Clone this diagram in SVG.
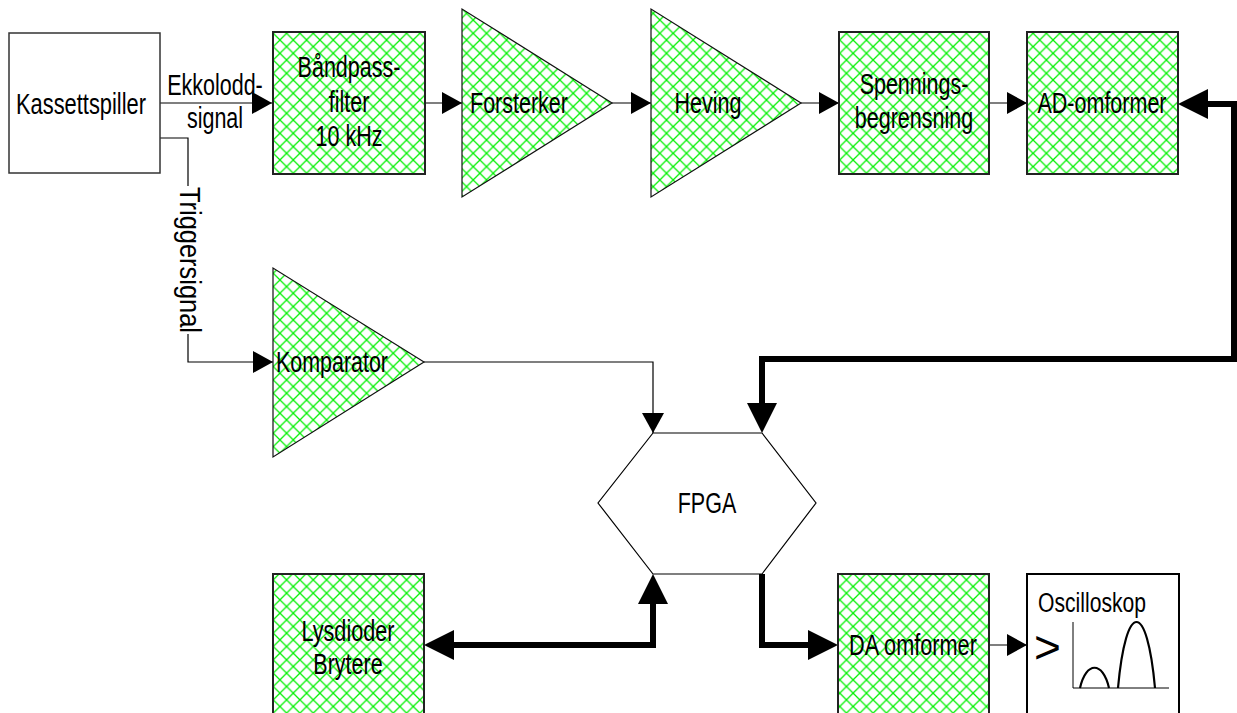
<svg xmlns="http://www.w3.org/2000/svg" width="1237" height="713" viewBox="0 0 1237 713">
<style>
.t{font-family:"Liberation Sans Narrow","Liberation Sans",Arial,sans-serif;font-size:29px;text-anchor:middle;fill:#000}
.box{fill:url(#hatch);stroke:#222;stroke-width:2}
.tri{fill:url(#hatch);stroke:#111;stroke-width:1.2}
.thin{fill:none;stroke:#000;stroke-width:1.2}
.thick{fill:none;stroke:#000;stroke-width:6;stroke-linejoin:miter}
</style>
<defs>
<pattern id="hatch" patternUnits="userSpaceOnUse" width="13.33" height="13.33">
<rect width="13.33" height="13.33" fill="#fff"/>
<path d="M0,0 L13.33,13.33 M13.33,0 L0,13.33" stroke="#00f000" stroke-width="1.25"/>
</pattern>
<marker id="ah" markerUnits="userSpaceOnUse" markerWidth="20" markerHeight="22" refX="20" refY="11" orient="auto">
<path d="M0,0 L20,11 L0,22 z" fill="#000"/>
</marker>
<marker id="ahT" markerUnits="userSpaceOnUse" markerWidth="30" markerHeight="30" refX="10" refY="15" orient="auto-start-reverse">
<path d="M0,0 L30,15 L0,30 z" fill="#000"/>
</marker>
</defs>
<rect width="1237" height="713" fill="#fff"/>

<g id="connectors">
<path class="thin" d="M160,103 H272" marker-end="url(#ah)"/>
<path class="thin" d="M425,103 H462" marker-end="url(#ah)"/>
<path class="thin" d="M612,103 H651" marker-end="url(#ah)"/>
<path class="thin" d="M801,103 H839" marker-end="url(#ah)"/>
<path class="thin" d="M989,103 H1027" marker-end="url(#ah)"/>
<path class="thin" d="M160,138 H188 V186"/>
<path class="thin" d="M188,334 V362 H273" marker-end="url(#ah)"/>
<path class="thin" d="M424,362 H653 V433" marker-end="url(#ah)"/>
<path class="thin" d="M989,645 H1027" marker-end="url(#ah)"/>
<path class="thick" d="M1198,104 H1234 V359 H762 V413" marker-start="url(#ahT)" marker-end="url(#ahT)"/>
<path class="thick" d="M444,645 H653 V594" marker-start="url(#ahT)" marker-end="url(#ahT)"/>
<path class="thick" d="M762,574 V645 H818" marker-end="url(#ahT)"/>
<text class="t" x="215" y="95" textLength="95.6" lengthAdjust="spacingAndGlyphs">Ekkolodd-</text>
<text class="t" x="215" y="128" textLength="56.2" lengthAdjust="spacingAndGlyphs">signal</text>
<text class="t" transform="translate(180,260) rotate(90)" x="0" y="0" textLength="146" lengthAdjust="spacingAndGlyphs">Triggersignal</text>
</g>

<g id="kassettspiller">
<rect x="9" y="33" width="151" height="140" fill="#fff" stroke="#333" stroke-width="1.5"/>
<text class="t" x="81" y="114" textLength="130" lengthAdjust="spacingAndGlyphs">Kassettspiller</text>
</g>

<g id="bandpass">
<rect class="box" x="273" y="32" width="152" height="142"/>
<text class="t" x="349" y="77" textLength="102.8" lengthAdjust="spacingAndGlyphs">Båndpass-</text>
<text class="t" x="349" y="112" textLength="40.6" lengthAdjust="spacingAndGlyphs">filter</text>
<text class="t" x="349" y="146" textLength="66.9" lengthAdjust="spacingAndGlyphs">10 kHz</text>
</g>

<g id="forsterker">
<polygon class="tri" points="462,9 462,197 612,103"/>
<text class="t" x="519" y="113" textLength="98" lengthAdjust="spacingAndGlyphs">Forsterker</text>
</g>

<g id="heving">
<polygon class="tri" points="651,9 651,197 801,103"/>
<text class="t" x="708" y="113" textLength="66.9" lengthAdjust="spacingAndGlyphs">Heving</text>
</g>

<g id="spenningsbegrensning">
<rect class="box" x="839" y="32" width="150" height="142"/>
<text class="t" x="914" y="94" textLength="108.7" lengthAdjust="spacingAndGlyphs">Spennings-</text>
<text class="t" x="914" y="128" textLength="118.3" lengthAdjust="spacingAndGlyphs">begrensning</text>
</g>

<g id="ad-omformer">
<rect class="box" x="1027" y="32" width="151" height="142"/>
<text class="t" x="1102" y="113" textLength="129" lengthAdjust="spacingAndGlyphs">AD-omformer</text>
</g>

<g id="komparator">
<polygon class="tri" points="273,268 273,457 424,362"/>
<text class="t" x="332" y="372" textLength="112" lengthAdjust="spacingAndGlyphs">Komparator</text>
</g>

<g id="fpga">
<polygon points="653,433 762,433 816,503 762,574 653,574 598,503" fill="#fff" stroke="#000" stroke-width="1.2"/>
<text class="t" x="707" y="513" textLength="58.5" lengthAdjust="spacingAndGlyphs">FPGA</text>
</g>

<g id="lysdioder">
<rect class="box" x="273" y="574" width="151" height="150"/>
<text class="t" x="348" y="641" textLength="93" lengthAdjust="spacingAndGlyphs">Lysdioder</text>
<text class="t" x="348" y="674" textLength="69.3" lengthAdjust="spacingAndGlyphs">Brytere</text>
</g>

<g id="da-omformer">
<rect class="box" x="838" y="574" width="151" height="150"/>
<text class="t" x="913" y="655" textLength="127.8" lengthAdjust="spacingAndGlyphs">DA omformer</text>
</g>

<g id="oscilloskop">
<rect x="1027" y="574" width="152" height="150" fill="#fff" stroke="#000" stroke-width="2"/>
<text class="t" x="1092" y="612" style="font-size:27px" textLength="108" lengthAdjust="spacingAndGlyphs">Oscilloskop</text>
<text x="1034" y="663" style="font-family:'Liberation Sans',Arial,sans-serif;font-size:46px;fill:#000">&gt;</text>
<path d="M1073,622 V688 H1169" fill="none" stroke="#000" stroke-width="1"/>
<path d="M1080,688 C1086,661 1103,661 1109,688" fill="none" stroke="#000" stroke-width="2.2"/>
<path d="M1118,688 C1126,600 1147,600 1155,688" fill="none" stroke="#000" stroke-width="2.2"/>
</g>
</svg>
